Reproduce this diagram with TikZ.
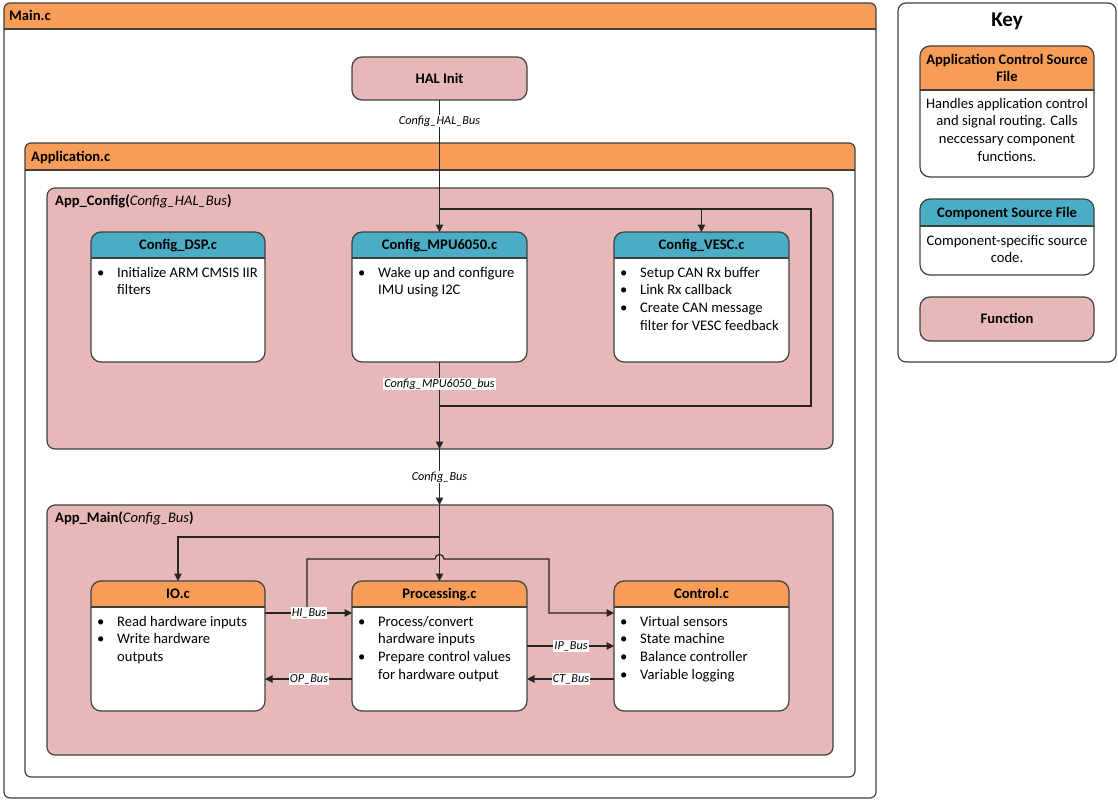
\documentclass[tikz,border=0pt]{standalone}
\usepackage{fontspec}
\setmainfont{Carlito}
\usetikzlibrary{arrows.meta,calc}
\definecolor{hdrorange}{HTML}{F79D57}
\definecolor{hdrteal}{HTML}{4BACC6}
\definecolor{fnpink}{HTML}{E6B8B7}
\definecolor{edge}{HTML}{404040}
\definecolor{wirecol}{HTML}{262626}
\newcommand{\bodyfont}{\fontsize{14.6}{17.8}\selectfont}
\newcommand{\lblfont}{\fontsize{12.2}{14}\selectfont\itshape}
\newcommand{\bul}{\makebox[22pt][l]{\hspace{2pt}\textbullet}}
\newcommand{\cont}{\hspace*{22pt}}
\tikzset{
 boxbase/.style={rectangle, inner sep=0pt, outer sep=0pt, anchor=north west},
 boxline/.style={draw=edge, line width=1.2pt},
 funcbox/.style={rectangle, fill=fnpink, draw=edge, line width=1.2pt, inner sep=0pt, outer sep=0pt, anchor=north west},
 titletext/.style={font=\bodyfont\bfseries, inner sep=0pt},
 bodytext/.style={font=\bodyfont, align=left, inner sep=0pt, anchor=north west},
 keytext/.style={font=\bodyfont, align=center, inner sep=0pt, anchor=north},
 wire/.style={draw=wirecol, line width=1.2pt},
 arr/.style={wire, -{Triangle[length=7.5pt,width=7.5pt]}},
 buslabel/.style={font=\lblfont, fill=white, inner sep=1pt},
}
% #1 name #2 x1 #3 y1 #4 w #5 h #6 header height #7 colour #8 radius
\newcommand{\hdrbox}[8]{%
 \node[boxbase, minimum width=#4pt, minimum height=#5pt] (#1) at (#2,#3) {};
 \fill[white, rounded corners=#8pt] (#1.south west) rectangle (#1.north east);
 \begin{scope}
 \clip[rounded corners=#8pt] (#1.south west) rectangle (#1.north east);
 \fill[#7] (#1.north west) rectangle ([yshift=-#6pt]#1.north east);
 \end{scope}
 \draw[boxline] ([yshift=-#6pt]#1.north west) -- ([yshift=-#6pt]#1.north east);
 \draw[boxline, rounded corners=#8pt] (#1.south west) rectangle (#1.north east);
}
\begin{document}
\begin{tikzpicture}[x=1pt,y=-1pt]
\useasboundingbox (0,0) rectangle (1118,800);
\fill[white] (0,0) rectangle (1118,800);

% containers
\hdrbox{main}{4}{3}{872}{795}{26}{hdrorange}{6}
\node[titletext, anchor=base west] (main-title) at (9,20.6) {Main.c};
\hdrbox{app}{25}{143}{830}{634}{27}{hdrorange}{6}
\node[titletext, anchor=base west] (app-title) at (31,161.6) {Application.c};

\node[funcbox, rounded corners=8pt, minimum width=786pt, minimum height=261pt] (cfg) at (47,188) {};
\node[font=\bodyfont, inner sep=0pt, anchor=base west] (cfg-title) at (55,205.6) {\textbf{App\_Config(}\textit{Config\_HAL\_Bus}\textbf{)}};
\node[funcbox, rounded corners=8pt, minimum width=786pt, minimum height=250pt] (amain) at (47,505) {};
\node[font=\bodyfont, inner sep=0pt, anchor=base west] (amain-title) at (55,522.6) {\textbf{App\_Main(}\textit{Config\_Bus}\textbf{)}};

% HAL init
\node[funcbox, rounded corners=10pt, minimum width=175pt, minimum height=43pt] (hal) at (352,57) {};
\node[titletext, anchor=base] (hal-title) at (439.5,83) {HAL Init};

% config boxes
\hdrbox{dsp}{91}{232}{174}{130}{26}{hdrteal}{10}
\node[titletext, anchor=base] (dsp-title) at ([yshift=-17.6pt]dsp.north) {Config\_DSP.c};
\node[bodytext] (dsp-body) at ([xshift=4pt,yshift=-32.5pt]dsp.north west) {\strut\bul Initialize ARM CMSIS IIR\\\cont filters};

\hdrbox{mpu}{352}{232}{175}{130}{26}{hdrteal}{10}
\node[titletext, anchor=base] (mpu-title) at ([yshift=-17.6pt]mpu.north) {Config\_MPU6050.c};
\node[bodytext] (mpu-body) at ([xshift=4pt,yshift=-32.5pt]mpu.north west) {\strut\bul Wake up and configure\\\cont IMU using I2C};

\hdrbox{vesc}{614}{232}{175}{130}{26}{hdrteal}{10}
\node[titletext, anchor=base] (vesc-title) at ([yshift=-17.6pt]vesc.north) {Config\_VESC.c};
\node[bodytext] (vesc-body) at ([xshift=4pt,yshift=-32.5pt]vesc.north west) {\strut\bul Setup CAN Rx buffer\\\bul Link Rx callback\\\bul Create CAN message\\\cont filter for VESC feedback};

% main boxes
\hdrbox{io}{91}{581}{174}{130}{26}{hdrorange}{10}
\node[titletext, anchor=base] (io-title) at ([yshift=-17.6pt]io.north) {IO.c};
\node[bodytext] (io-body) at ([xshift=4pt,yshift=-32.5pt]io.north west) {\strut\bul Read hardware inputs\\\bul Write hardware\\\cont outputs};

\hdrbox{proc}{352}{581}{175}{130}{26}{hdrorange}{10}
\node[titletext, anchor=base] (proc-title) at ([yshift=-17.6pt]proc.north) {Processing.c};
\node[bodytext] (proc-body) at ([xshift=4pt,yshift=-32.5pt]proc.north west) {\strut\bul Process/convert\\\cont hardware inputs\\\bul Prepare control values\\\cont for hardware output};

\hdrbox{ctrl}{614}{581}{175}{130}{26}{hdrorange}{10}
\node[titletext, anchor=base] (ctrl-title) at ([yshift=-17.6pt]ctrl.north) {Control.c};
\node[bodytext] (ctrl-body) at ([xshift=4pt,yshift=-32.5pt]ctrl.north west) {\strut\bul Virtual sensors\\\bul State machine\\\bul Balance controller\\\bul Variable logging};

% connectors: config
\coordinate (j1) at (hal.south |- 0,209);
\coordinate (lr) at (811,209);
\coordinate (lb) at (811,406);
\coordinate (lj) at (mpu.south |- 0,406);
\draw[arr] (hal.south) -- (mpu.north);
\draw[arr] (j1) -| (vesc.north);
\draw[wire] (j1) -- (lr) -- (lb) -- (lj);
\coordinate (cfgout) at (mpu.south |- cfg.south);
\coordinate (mainin) at (mpu.south |- amain.north);
\draw[arr] (mpu.south) -- (cfgout);
\draw[arr] (cfgout) -- (mainin);
\node[buslabel] (lbl-hal) at (439.5,121) {Config\_HAL\_Bus};
\node[buslabel] (lbl-mpu) at (439.5,384) {Config\_MPU6050\_bus};
\node[buslabel] (lbl-cfg) at (439.5,477) {Config\_Bus};

% connectors: main
\coordinate (j2) at (proc.north |- 0,537);
\draw[arr] (mainin) -- (proc.north);
\draw[arr] (j2) -| (io.north);
\draw[arr] (io.east |- 0,613) -- (proc.west |- 0,613);
\coordinate (hb) at (307,613);
\coordinate (hbt) at (307,559);
\coordinate (hop1) at (435,559);
\coordinate (hop2) at (444,559);
\coordinate (hbr) at (549,559);
\coordinate (hbd) at (549,613);
\draw[arr] (hb) -- (hbt) -- (hop1) .. controls (435,553) and (444,553) .. (hop2) -- (hbr) -- (hbd) -- (ctrl.west |- 0,613);
\draw[arr] (proc.east |- 0,646) -- (ctrl.west |- 0,646);
\draw[arr] (ctrl.west |- 0,679) -- (proc.east |- 0,679);
\draw[arr] (proc.west |- 0,679) -- (io.east |- 0,679);
\node[buslabel] (lbl-hi) at (309,613) {HI\_Bus};
\node[buslabel] (lbl-op) at (309,679) {OP\_Bus};
\node[buslabel] (lbl-ip) at (571,646) {IP\_Bus};
\node[buslabel] (lbl-ct) at (571,679) {CT\_Bus};

% key
\node[rectangle, fill=white, draw=edge, line width=1.2pt, rounded corners=8pt, inner sep=0pt, outer sep=0pt, anchor=north west, minimum width=218pt, minimum height=359pt] (key) at (898,3) {};
\node[font=\fontsize{21}{25}\selectfont\bfseries, inner sep=0pt, anchor=base] (key-title) at (1007,27) {Key};
\hdrbox{kapp}{920}{46}{174}{131}{44}{hdrorange}{10}
\node[titletext, align=center] (kapp-title) at ([yshift=-22pt]kapp.north) {Application Control Source\\File};
\node[keytext] (kapp-body) at (1007,95.5) {\strut Handles application control\\and signal routing. Calls\\neccessary component\\functions.};
\hdrbox{kcomp}{920}{199}{174}{76}{27}{hdrteal}{10}
\node[titletext, anchor=base] (kcomp-title) at (1007,217.5) {Component Source File};
\node[keytext] (kcomp-body) at (1007,232.5) {\strut Component-specific source\\code.};
\node[funcbox, rounded corners=10pt, minimum width=174pt, minimum height=44pt] (kfunc) at (920,297) {};
\node[titletext, anchor=base] (kfunc-title) at (1007,323.6) {Function};
\end{tikzpicture}
\end{document}
